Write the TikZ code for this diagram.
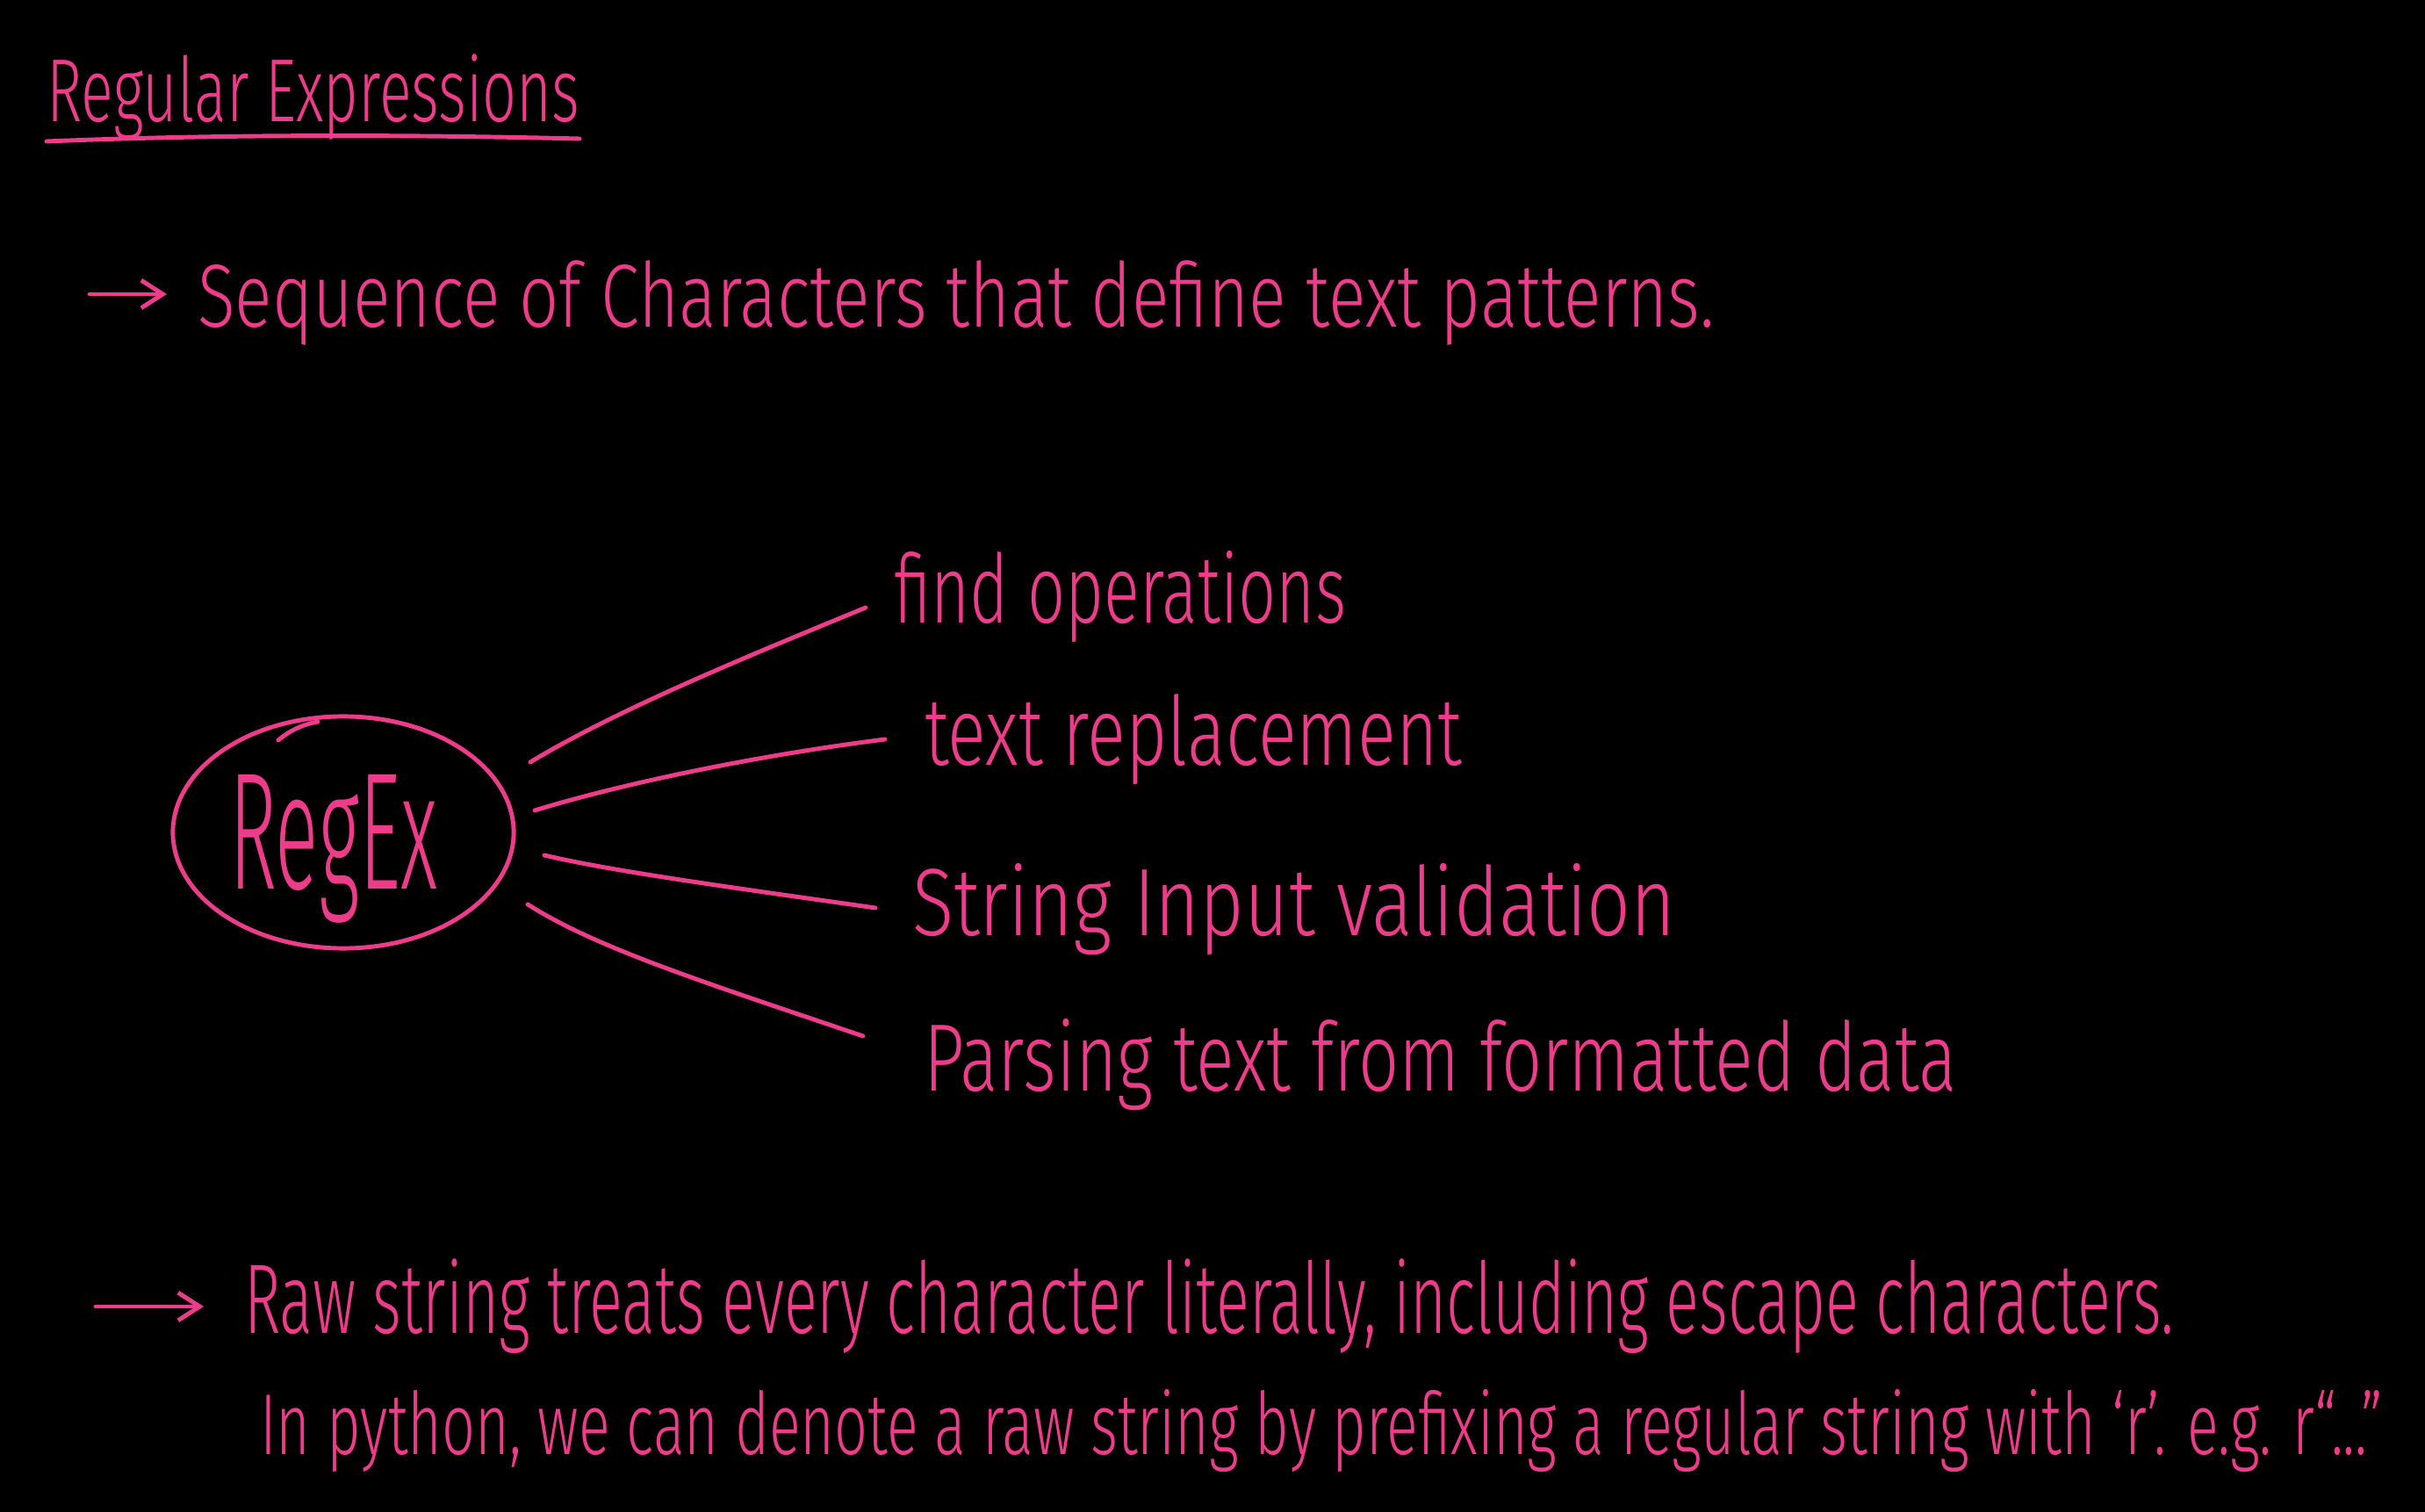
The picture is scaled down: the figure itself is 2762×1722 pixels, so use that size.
\documentclass[tikz,border=0pt]{standalone}
\usepackage{fontspec}
\setmainfont{Fira Sans}[UprightFont=* Light]
\usepackage{graphicx}
\usetikzlibrary{shapes.geometric,arrows.meta}
\definecolor{ink}{HTML}{EC3C8A}
\newcommand{\hwtext}[3]{\fontsize{#1}{#1}\selectfont\resizebox{#2}{\height}{#3}}
\tikzset{
  hw/.style={anchor=base west, inner sep=0pt, outer sep=0pt, text=ink},
  conn/.style={draw=ink, line width=1.4pt, line cap=round, line join=round},
  pointer/.style={conn, -{Straight Barb[length=7pt,width=9pt]}},
}
\begin{document}
\begin{tikzpicture}[x=0.01cm,y=-0.01cm]
\fill[black] (0,0) rectangle (2762,1722);
\useasboundingbox (0,0) rectangle (2762,1722);

% title
\node[hw] (title) at (53,139) {\hwtext{29pt}{6.07cm}{Regular Expressions}};
\coordinate (ulA) at (53,161);
\coordinate (ulB) at (660,158);
\draw[conn] (ulA) .. controls (250,153) and (450,153) .. (ulB);

% definition line
\coordinate (p1s) at (102,335);
\coordinate (p1e) at (190,335);
\draw[pointer] (p1s) -- (p1e);
\node[hw] (def) at (225,373) {\hwtext{29pt}{17.27cm}{Sequence of Characters that define text patterns.}};

% RegEx ellipse
\node[draw=ink, line width=1.4pt, ellipse, minimum width=3.88cm, minimum height=2.64cm, inner sep=0pt] (regex) at (391,948) {};
\coordinate (tkA) at (317,843);
\coordinate (tkB) at (362,822);
\draw[conn] (tkA) .. controls (330,832) and (345,825) .. (tkB);
\node[hw] (regexlbl) at (261,1013) {\hwtext{54pt}{2.37cm}{RegEx}};

% labels
\node[hw] (find) at (1018,710) {\hwtext{31pt}{5.15cm}{find operations}};
\node[hw] (repl) at (1053,872) {\hwtext{31pt}{6.12cm}{text replacement}};
\node[hw] (valid) at (1039,1066) {\hwtext{31pt}{8.69cm}{String Input validation}};
\node[hw] (parse) at (1052,1242) {\hwtext{31pt}{11.76cm}{Parsing text from formatted data}};

% connectors
\coordinate (c1a) at (604,868);  \coordinate (c1b) at (986,692);
\coordinate (c2a) at (609,923);  \coordinate (c2b) at (1008,842);
\coordinate (c3a) at (620,974);  \coordinate (c3b) at (997,1034);
\coordinate (c4a) at (601,1030); \coordinate (c4b) at (983,1180);
\draw[conn] (c1a) .. controls (700,810) and (840,752) .. (c1b);
\draw[conn] (c2a) .. controls (700,895) and (850,862) .. (c2b);
\draw[conn] (c3a) .. controls (700,993) and (850,1013) .. (c3b);
\draw[conn] (c4a) .. controls (680,1080) and (800,1118) .. (c4b);

% raw string note
\coordinate (p2s) at (109,1488);
\coordinate (p2e) at (232,1488);
\draw[pointer] (p2s) -- (p2e);
\node[hw] (raw) at (278,1518) {\hwtext{32pt}{21.97cm}{Raw string treats every character literally, including escape characters.}};
\node[hw] (py) at (296,1656) {\hwtext{28pt}{24.17cm}{In python, we can denote a raw string by prefixing a regular string with ‘r’. e.g. r“...”}};
\end{tikzpicture}
\end{document}
